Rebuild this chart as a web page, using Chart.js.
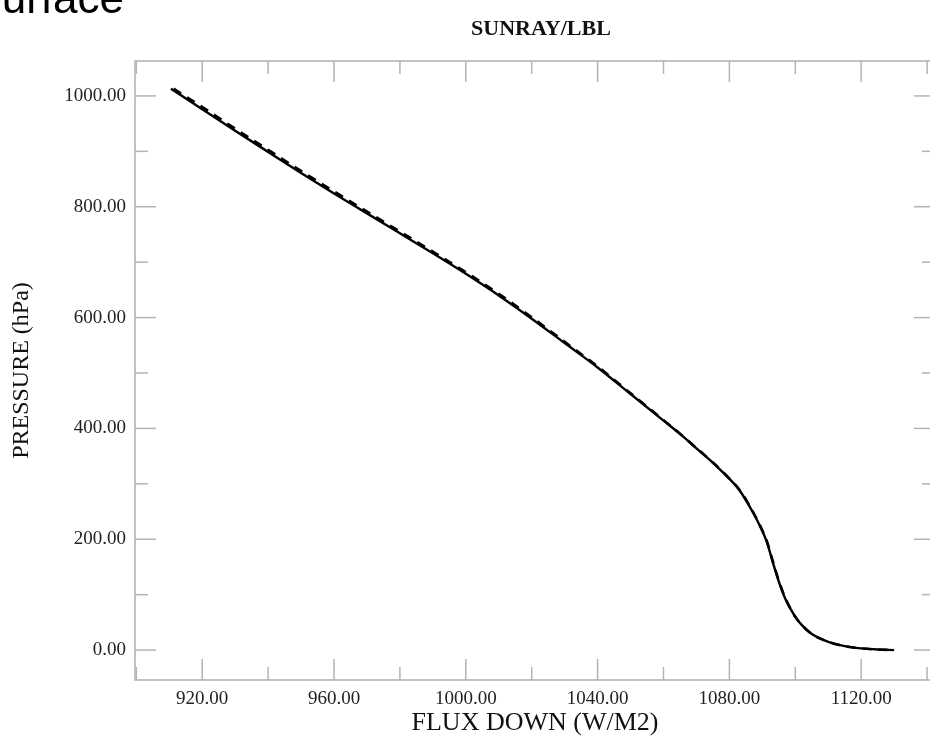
<!DOCTYPE html>
<html>
<head>
<meta charset="utf-8">
<script src="https://cdn.jsdelivr.net/npm/chart.js@4.4.1/dist/chart.umd.min.js"></script>
<style>
html,body{margin:0;padding:0;background:#fff;overflow:hidden;width:930px;height:736px}
#wrap{position:relative;width:945px;height:736px}
</style>
</head>
<body>
<div id="wrap"><canvas id="c" width="945" height="736"></canvas></div>
<script>
// ---- text ----
const chartTitle = 'SUNRAY/LBL';
const cornerText = 'Surface';
const xAxisTitle = 'FLUX DOWN (W/M2)';
const yAxisTitle = 'PRESSURE (hPa)';

// ---- tick values ----
const xMajorTicks = [920, 960, 1000, 1040, 1080, 1120];
const xMinorTicks = [900, 940, 980, 1020, 1060, 1100, 1140];
const yMajorTicks = [0, 200, 400, 600, 800, 1000];
const yMinorTicks = [100, 300, 500, 700, 900];

// ---- axis ranges ----
const X_MIN = 899.6, X_MAX = 1142.4;
const Y_MIN = -54, Y_MAX = 1063;

// ---- series: solid line (flux down W/m2, pressure hPa) ----
const fluxSolid     = [910.5, 920, 930, 940, 950, 960, 970, 980, 990, 1000, 1010, 1020, 1030, 1040, 1050, 1060, 1065, 1070, 1075, 1080, 1083, 1087, 1089.5, 1091.3, 1093, 1094.8, 1097, 1100, 1102, 1105, 1110, 1115, 1120, 1125, 1130];
const pressureSolid = [1013, 976, 937, 899, 861, 824, 788, 752, 716, 679, 640, 598, 554, 510, 462, 414, 390, 364, 338, 309, 289, 250, 221, 196, 162, 127, 92, 60, 45, 29, 15, 7, 3, 1, 0];

// ---- series: dashed line (flux down W/m2, pressure hPa) ----
const fluxDashed     = [911.3, 921, 931, 941, 951, 961, 970.9, 980.9, 990.8, 1000.8, 1010.7, 1020.6, 1030.5, 1040.4, 1050.3, 1060.2, 1065.1, 1070.1, 1075.1, 1080.1, 1083.1, 1087.1, 1089.6, 1091.4, 1093.1, 1094.9, 1097.1, 1100, 1102, 1105, 1110, 1115, 1120, 1125, 1130];
const pressureDashed = [1013, 976, 937, 899, 861, 824, 788, 752, 716, 679, 640, 598, 554, 510, 462, 414, 390, 364, 338, 309, 289, 250, 221, 196, 162, 127, 92, 60, 45, 29, 15, 7, 3, 1, 0];

const toPoints = (xs, ys) => xs.map((v, i) => ({x: v, y: ys[i]}));

const SERIF = '"Liberation Serif", "Times New Roman", serif';

const framePlugin = {
  id: 'frameTicks',
  beforeDatasetsDraw(chart) {
    const {ctx, chartArea: {left, right, top, bottom}, scales: {x, y}} = chart;
    ctx.save();
    ctx.strokeStyle = '#c2c2c2';
    ctx.lineWidth = 2;
    ctx.strokeRect(left, top, right - left, bottom - top);
    ctx.strokeStyle = '#b4b4b4';
    ctx.lineWidth = 1.5;
    const seg = (x1, y1, x2, y2) => { ctx.beginPath(); ctx.moveTo(x1, y1); ctx.lineTo(x2, y2); ctx.stroke(); };
    const MAJ = 21, MIN = 13;
    xMajorTicks.forEach(v => { const p = x.getPixelForValue(v); seg(p, bottom, p, bottom - MAJ); seg(p, top, p, top + MAJ); });
    xMinorTicks.forEach(v => { const p = x.getPixelForValue(v); seg(p, bottom, p, bottom - MIN); seg(p, top, p, top + MIN); });
    yMajorTicks.forEach(v => { const p = y.getPixelForValue(v); seg(left, p, left + MAJ, p); seg(right, p, right - MAJ, p); });
    yMinorTicks.forEach(v => { const p = y.getPixelForValue(v); seg(left, p, left + MIN, p); seg(right, p, right - MIN, p); });
    ctx.restore();
  },
  afterDraw(chart) {
    const {ctx, chartArea: {left, right}} = chart;
    ctx.save();
    ctx.fillStyle = '#111';
    ctx.font = 'bold 22px ' + SERIF;
    ctx.textAlign = 'center';
    ctx.textBaseline = 'middle';
    ctx.fillText(chartTitle, (left + right) / 2 + 6, 29);
    ctx.fillStyle = '#000';
    ctx.font = '44px "Liberation Sans", Arial, sans-serif';
    ctx.textAlign = 'right';
    ctx.textBaseline = 'alphabetic';
    ctx.fillText(cornerText, 124, 13);
    ctx.restore();
  }
};

new Chart(document.getElementById('c'), {
  type: 'scatter',
  data: {
    datasets: [
      {
        label: 'dashed',
        data: toPoints(fluxDashed, pressureDashed),
        showLine: true,
        borderColor: '#000',
        borderWidth: 2.6,
        borderDash: [9, 7],
        pointRadius: 0,
        cubicInterpolationMode: 'monotone',
        fill: false
      },
      {
        label: 'solid',
        data: toPoints(fluxSolid, pressureSolid),
        showLine: true,
        borderColor: '#000',
        borderWidth: 2.4,
        pointRadius: 0,
        cubicInterpolationMode: 'monotone',
        fill: false
      }
    ]
  },
  options: {
    responsive: false,
    animation: false,
    devicePixelRatio: 1,
    layout: {padding: {top: 61, right: 10, left: 0, bottom: 0}},
    plugins: {legend: {display: false}, tooltip: {enabled: false}, title: {display: false}},
    scales: {
      x: {
        type: 'linear', position: 'bottom', min: X_MIN, max: X_MAX,
        afterBuildTicks: s => { s.ticks = xMajorTicks.map(v => ({value: v})); },
        afterFit: s => { s.height = 56; },
        grid: {display: false, drawTicks: false, tickLength: 0},
        border: {display: false},
        ticks: {callback: v => Number(v).toFixed(2), font: {family: SERIF, size: 19}, color: '#222', padding: 8, maxRotation: 0, autoSkip: false},
        title: {display: true, text: xAxisTitle, font: {family: SERIF, size: 26}, color: '#111', padding: {top: 0, bottom: -3}}
      },
      y: {
        type: 'linear', position: 'left', min: Y_MIN, max: Y_MAX,
        afterBuildTicks: s => { s.ticks = yMajorTicks.map(v => ({value: v})); },
        afterFit: s => { s.width = 135; },
        grid: {display: false, drawTicks: false, tickLength: 0},
        border: {display: false},
        ticks: {callback: v => Number(v).toFixed(2), font: {family: SERIF, size: 19}, color: '#222', padding: 9, autoSkip: false},
        title: {display: true, text: yAxisTitle, font: {family: SERIF, size: 24}, color: '#111', padding: {top: 7, bottom: 0}}
      }
    }
  },
  plugins: [framePlugin]
});
</script>
</body>
</html>
